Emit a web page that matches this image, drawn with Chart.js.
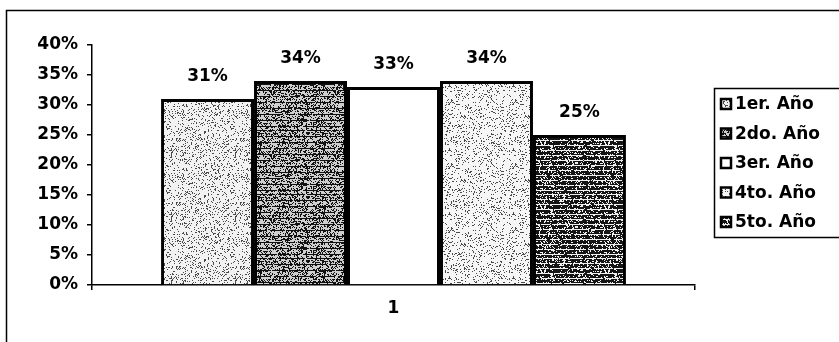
<!DOCTYPE html>
<html>
<head>
<meta charset="utf-8">
<script src="https://cdn.jsdelivr.net/npm/chart.js@4"></script>
<style>
  html, body { margin: 0; padding: 0; background: #fff; }
  #wrap { width: 839px; height: 342px; }
</style>
</head>
<body>
<div id="wrap"><canvas id="c" width="839" height="342"></canvas></div>
<script>
const categories = ['1'];
const seriesNames = ['1er. Año', '2do. Año', '3er. Año', '4to. Año', '5to. Año'];
const seriesValues = [0.31, 0.34, 0.33, 0.34, 0.25];
const yTicks = [0, 0.05, 0.10, 0.15, 0.20, 0.25, 0.30, 0.35, 0.40];

const FONT = '"DejaVu Sans", sans-serif';

// stipple fills, deterministic generator so the texture is the same each run
const makePattern = (bg, ink, density, lineEvery, seed) => {
  const size = 64;
  const c = document.createElement('canvas');
  c.width = size; c.height = size;
  const g = c.getContext('2d');
  g.fillStyle = bg;
  g.fillRect(0, 0, size, size);
  let s = seed;
  const rnd = () => { s = (s * 16807) % 2147483647; return s / 2147483647; };
  g.fillStyle = ink;
  for (let i = 0; i < size * size * density; i++) {
    g.fillRect(Math.floor(rnd() * size), Math.floor(rnd() * size), 1, 1);
  }
  if (lineEvery) {
    for (let y = 2; y < size; y += lineEvery) {
      let x = 0;
      while (x < size) {
        const len = 6 + Math.floor(rnd() * 14);
        g.fillRect(x, y, len, 1);
        x += len + 1 + Math.floor(rnd() * 3);
      }
    }
  }
  return g.createPattern(c, 'repeat');
};

const fills = [
  makePattern('#f2f2f2', '#4a4a4a', 0.18, 0, 11),
  makePattern('#cfcfcf', '#111111', 0.45, 6, 23),
  '#ffffff',
  makePattern('#f6f6f6', '#4a4a4a', 0.15, 0, 37),
  makePattern('#141414', '#f0f0f0', 0.22, 5, 53)
];

const pct = v => Math.round(v * 100) + '%';

const framePlugin = {
  id: 'frame',
  beforeDraw(chart) {
    const ctx = chart.ctx;
    ctx.save();
    ctx.fillStyle = '#fff';
    ctx.fillRect(0, 0, chart.width, chart.height);
    ctx.strokeStyle = '#000';
    ctx.lineWidth = 1.5;
    ctx.beginPath();
    ctx.moveTo(845, 10.5);
    ctx.lineTo(6.5, 10.5);
    ctx.lineTo(6.5, 350);
    ctx.stroke();
    ctx.restore();
  }
};

const labelPlugin = {
  id: 'valueLabels',
  afterDatasetsDraw(chart) {
    const ctx = chart.ctx;
    ctx.save();
    ctx.font = 'bold 17px ' + FONT;
    ctx.fillStyle = '#000';
    ctx.textAlign = 'center';
    ctx.textBaseline = 'middle';
    chart.data.datasets.forEach((ds, i) => {
      chart.getDatasetMeta(i).data.forEach((bar, j) => {
        ctx.fillText(pct(ds.data[j]), bar.x, bar.y - 22);
      });
    });
    ctx.restore();
  }
};

const legendPlugin = {
  id: 'boxLegend',
  afterDraw(chart) {
    const ctx = chart.ctx;
    const left = 714, top = 88, bottom = 237, rowH = 29.5;
    ctx.save();
    ctx.strokeStyle = '#000';
    ctx.lineWidth = 1.5;
    ctx.strokeRect(left + 0.5, top + 0.5, 140, bottom - top);
    ctx.font = 'bold 17px ' + FONT;
    ctx.textBaseline = 'middle';
    ctx.textAlign = 'left';
    chart.data.datasets.forEach((ds, i) => {
      const cy = top + 16 + i * rowH;
      ctx.fillStyle = ds.backgroundColor;
      ctx.fillRect(721, cy - 5, 10, 10);
      ctx.lineWidth = 2.5;
      ctx.strokeRect(721, cy - 5, 10, 10);
      ctx.fillStyle = '#000';
      ctx.fillText(ds.label, 735, cy + 1);
    });
    ctx.restore();
  }
};

new Chart(document.getElementById('c'), {
  type: 'bar',
  data: {
    labels: categories,
    datasets: seriesNames.map((name, i) => ({
      label: name,
      data: [seriesValues[i]],
      backgroundColor: fills[i],
      borderColor: '#000',
      borderWidth: 3,
      borderSkipped: 'bottom',
      categoryPercentage: 0.771,
      barPercentage: 1
    }))
  },
  options: {
    responsive: false,
    animation: false,
    layout: { padding: { left: 0, right: 144, top: 45, bottom: 0 } },
    plugins: {
      legend: { display: false },
      tooltip: { enabled: false }
    },
    scales: {
      x: {
        grid: { drawOnChartArea: false, drawTicks: true, tickLength: 5, color: '#000', lineWidth: 1.5 },
        border: { display: true, color: '#000', width: 1.5 },
        ticks: { color: '#000', font: { family: FONT, size: 17, weight: 'bold' }, padding: 8 },
        afterFit: axis => { axis.height = 57; }
      },
      y: {
        min: 0,
        max: 0.4,
        afterBuildTicks: axis => { axis.ticks = yTicks.map(v => ({ value: v })); },
        grid: { drawOnChartArea: false, drawTicks: true, tickLength: 5, color: '#000', lineWidth: 1.5 },
        border: { display: true, color: '#000', width: 1.5 },
        ticks: {
          color: '#000',
          padding: 9,
          font: { family: FONT, size: 17, weight: 'bold' },
          callback: v => pct(v)
        },
        afterFit: axis => { axis.width = 92; }
      }
    }
  },
  plugins: [framePlugin, labelPlugin, legendPlugin]
});
</script>
</body>
</html>
